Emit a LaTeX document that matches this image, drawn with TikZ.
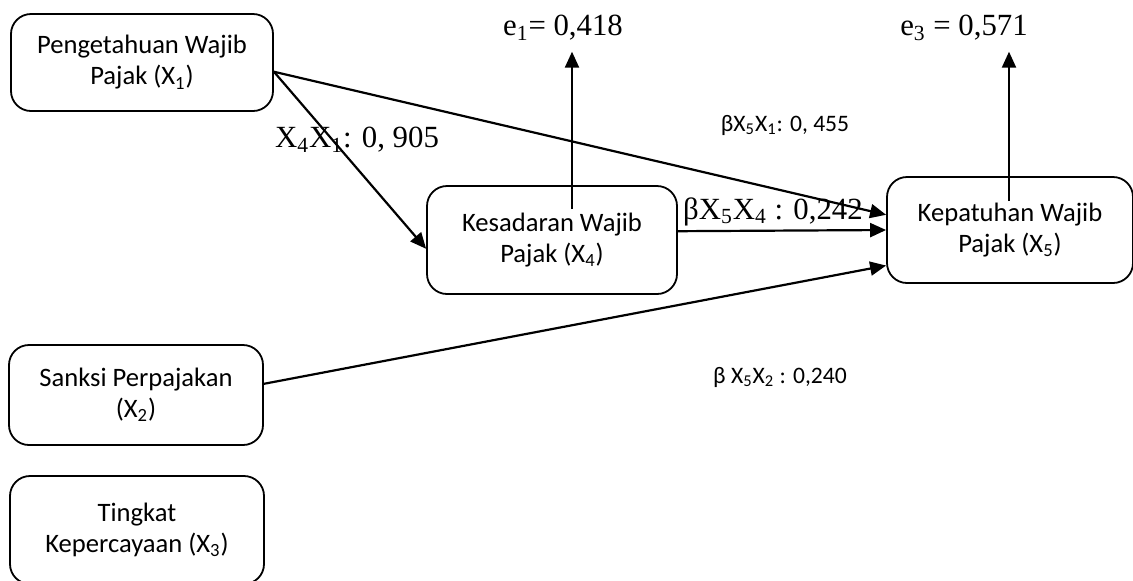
\documentclass[tikz,border=0pt]{standalone}
\usepackage{fontspec}
\setmainfont{Carlito}
\newfontfamily\tms{Liberation Serif}
\usetikzlibrary{arrows.meta}
\tikzset{
  var/.style={draw,line width=0.9pt,rounded corners=10pt,align=center,inner sep=0pt,
    font=\fontsize{13.3}{15.5}\selectfont},
  arr/.style={-{Triangle[length=8pt,width=7pt]},line width=1.1pt},
  coef/.style={font=\fontsize{11.8}{14}\selectfont},
  coeft/.style={font=\tms\fontsize{15.4}{18}\selectfont}
}
\begin{document}
\begin{tikzpicture}[x=0.5pt,y=-0.5pt]
\useasboundingbox (0,0) rectangle (1133,580);
\node[var,minimum width=131pt,minimum height=48.5pt] (X1) at (142,62.5) {Pengetahuan Wajib\\Pajak (X\textsubscript{1})};
\node[var,minimum width=125pt,minimum height=54pt] (X4) at (552,240) {Kesadaran Wajib\\Pajak (X\textsubscript{4})};
\node[var,minimum width=123pt,minimum height=53pt] (X5) at (1010,230) {Kepatuhan Wajib\\Pajak (X\textsubscript{5})};
\node[var,minimum width=127pt,minimum height=50pt] (X2) at (136,395) {Sanksi Perpajakan\\(X\textsubscript{2})};
\node[var,minimum width=127pt,minimum height=54pt] (X3) at (137,530) {Tingkat\\Kepercayaan (X\textsubscript{3})};
\node[coeft] (e1) at (563,28) {e\textsubscript{1}= 0,418};
\node[coeft] (e3) at (964,28) {e\textsubscript{3} = 0,571};
\coordinate (e1s) at (572,209);
\coordinate (e3s) at (1009,201);
% paths
\draw[arr] (X1.-4) -- (X4.184);
\draw[arr] (X1.-4) -- (X5.173);
\draw[arr] (X4.4.6) -- (X5.180);
\draw[arr] (X2.5.4) -- (X5.196);
\draw[arr] (e1s) -- ([yshift=-2pt]e1s |- e1.south);
\draw[arr] (e3s) -- ([yshift=-2pt]e3s |- e3.south);
% coefficients
\node[coeft] (c41) at (357,140) {X\textsubscript{4}X\textsubscript{1}: 0, 905};
\node[coef] (c51) at (785,125) {βX\textsubscript{5}X\textsubscript{1}: 0, 455};
\node[coeft] (c54) at (773,212) {βX\textsubscript{5}X\textsubscript{4} : 0,242};
\node[coef] (c52) at (780,377) {β X\textsubscript{5}X\textsubscript{2} : 0,240};
\end{tikzpicture}
\end{document}
